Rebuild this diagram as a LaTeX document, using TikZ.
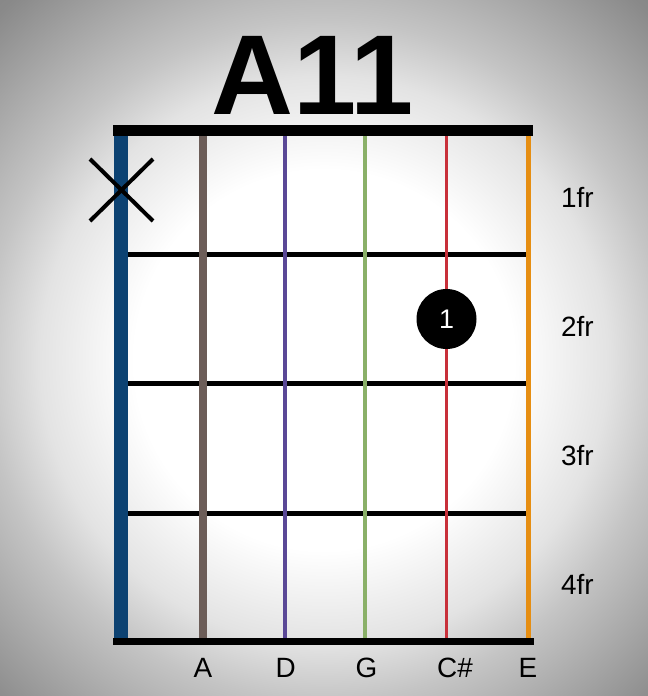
\documentclass[tikz,border=0pt]{standalone}
\usepackage{fontspec}
\setmainfont{Liberation Sans}
\usetikzlibrary{positioning}
\definecolor{StrBlue}{RGB}{12,66,114}
\definecolor{StrBrown}{RGB}{108,93,88}
\definecolor{StrPurple}{RGB}{90,72,150}
\definecolor{StrGreen}{RGB}{138,176,104}
\definecolor{StrRed}{RGB}{200,48,58}
\definecolor{StrOrange}{RGB}{230,142,18}
\pgfdeclareradialshading{vignette}{\pgfpointorigin}{%
  color(0bp)=(white); color(9.5bp)=(white);
  color(14.2bp)=(black!11); color(17bp)=(black!23);
  color(23.75bp)=(black!46); color(25bp)=(black!48);
  color(50bp)=(black!48)}

\begin{document}
\begin{tikzpicture}[x=1bp,y=-1bp,
        fretline/.style={draw=black,line width=5bp},
        bar/.style={draw=black,line width=#1},
        strline/.style={line width=#1},
        fretlabel/.style={anchor=base west,inner sep=0pt,
                          font=\fontsize{28}{30}\selectfont},
        notelabel/.style={anchor=base west,inner sep=0pt,
                          font=\fontsize{28}{30}\selectfont},
        fingerdot/.style={circle,fill=black,minimum size=60bp,inner sep=0pt,
                          text=white,font=\fontsize{27}{28}\selectfont}
      ]
        \useasboundingbox (0,0) rectangle (648,696);
        \begin{scope}
          \clip (0,0) rectangle (648,696);
          \shade[shading=vignette] (-176,-140) rectangle (824,860);
        \end{scope}
        % title
        \node[anchor=base west,inner sep=0pt,
              font=\fontsize{114}{120}\selectfont\bfseries] (title) at (211,115) {A11};
        % frets
        \foreach \y in {254.5,383.5,513} \draw[fretline] (128,\y) -- (528,\y);
        % strings
        \draw[StrBlue,strline=14bp]  (121,136) -- (121,638);
        \draw[StrBrown,strline=8bp]  (203,136) -- (203,638);
        \draw[StrPurple,strline=4bp] (285,136) -- (285,638);
        \draw[StrGreen,strline=4bp]  (365,136) -- (365,638);
        \draw[StrRed,strline=3bp]    (446.5,136) -- (446.5,638);
        \draw[StrOrange,strline=5bp] (528,136) -- (528,638);
        % nut and bottom bar
        \draw[bar=11bp] (113,130.5) -- (533,130.5);
        \draw[bar=7bp]  (113,641.5) -- (534,641.5);
        % muted string
        \draw[line width=4bp] (90,159) -- (153,221);
        \draw[line width=4bp] (90,221) -- (153,159);
        % finger
        \node[fingerdot] (dot) at (446.5,319) {1};
        % fret numbers
        \node[fretlabel] (fr1) at (561,207) {1fr};
        \node[fretlabel] (fr2) at (561,336) {2fr};
        \node[fretlabel] (fr3) at (561,465) {3fr};
        \node[fretlabel] (fr4) at (561,594) {4fr};
        % notes
        \node[notelabel] (nA)  at (193.5,677) {A};
        \node[notelabel] (nD)  at (275.5,677) {D};
        \node[notelabel] (nG)  at (355.5,677) {G};
        \node[notelabel] (nCs) at (437,677) {C\#};
        \node[notelabel] (nE)  at (518.5,677) {E};
      \end{tikzpicture}
\end{document}
